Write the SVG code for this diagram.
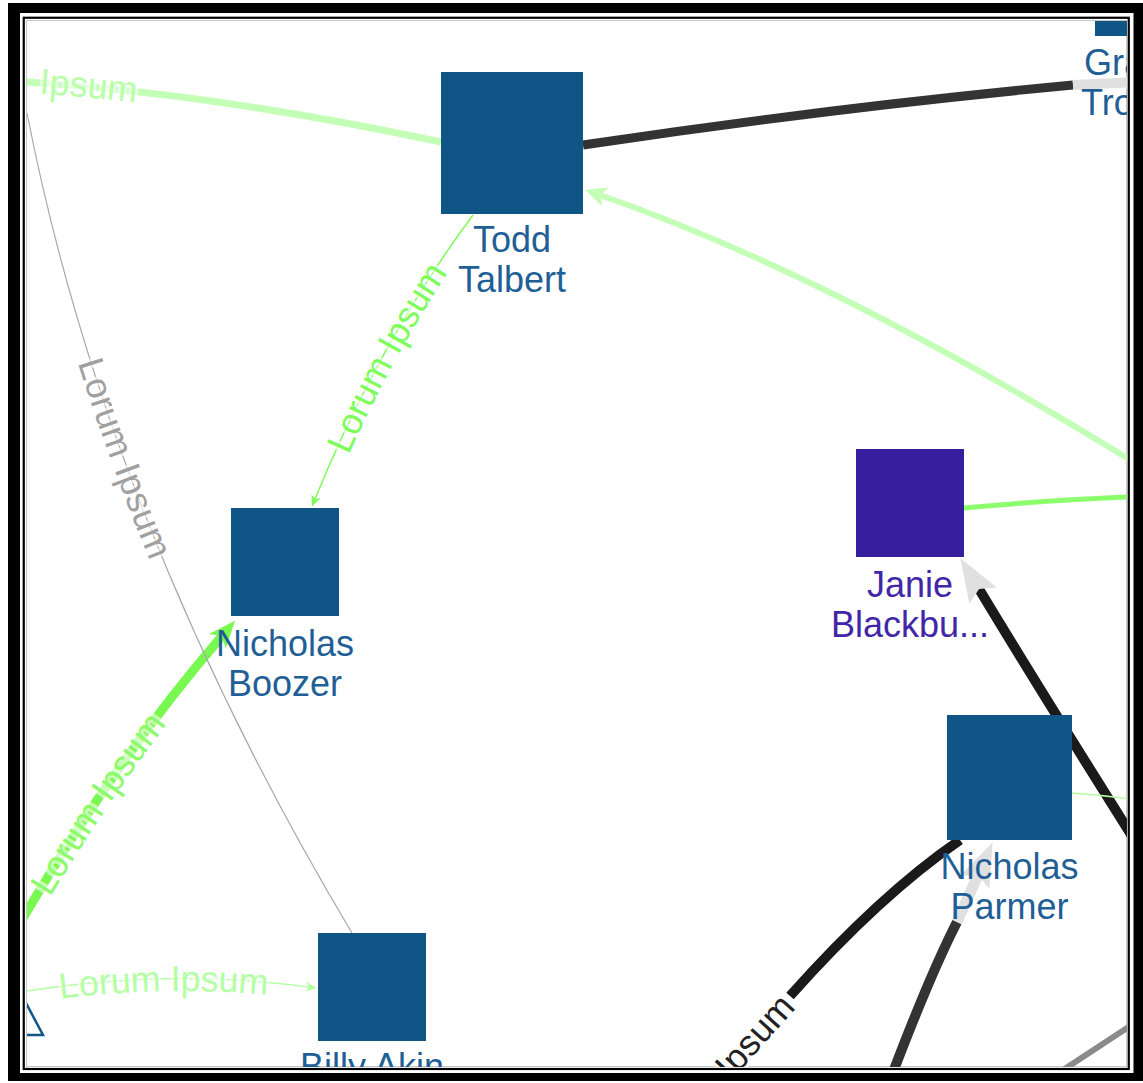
<svg xmlns="http://www.w3.org/2000/svg" width="1143" height="1083" viewBox="0 0 1143 1083">
<defs>
<style>
.nrect{fill:#0f5586;}
.nlbl{font-family:"Liberation Sans",Arial,sans-serif;font-size:36px;fill:#1f5f96;text-anchor:middle;}
.elbl{font-family:"Liberation Sans",Arial,sans-serif;font-size:36px;stroke:#fff;stroke-opacity:0.6;stroke-width:6px;paint-order:stroke;stroke-linejoin:round;}
.e{fill:none;}
</style>
<clipPath id="content"><rect x="27" y="21" width="1100" height="1046"/></clipPath>
<marker id="m-lg" markerUnits="userSpaceOnUse" orient="auto" refX="-16" refY="0" markerWidth="30" markerHeight="30" overflow="visible">
<path d="M0,0 L-22,-10 L-16,0 L-22,10 Z" fill="#c4ffb8"/>
</marker>
<marker id="m-g4" markerUnits="userSpaceOnUse" orient="auto" refX="-8" refY="0" markerWidth="14" markerHeight="14" overflow="visible">
<path d="M0,0 L-11,-5 L-8,0 L-11,5 Z" fill="#7dfc5a"/>
</marker>
<marker id="m-g5" markerUnits="userSpaceOnUse" orient="auto" refX="-20" refY="0" markerWidth="30" markerHeight="30" overflow="visible">
<path d="M0,0 L-27,-11 L-20,0 L-27,11 Z" fill="#78f850"/>
</marker>
<marker id="m-lg7" markerUnits="userSpaceOnUse" orient="auto" refX="-8" refY="0" markerWidth="14" markerHeight="14" overflow="visible">
<path d="M0,0 L-11,-5 L-8,0 L-11,5 Z" fill="#b4ffa4"/>
</marker>
<marker id="m-gr" markerUnits="userSpaceOnUse" orient="auto" refX="-36" refY="0" markerWidth="50" markerHeight="40" overflow="visible">
<path d="M0,0 L-44,-16 L-36,0 L-44,16 Z" fill="#e0e0e0"/>
</marker>
<path id="p-e1" d="M-80,78 Q150,80 441,142"/>
<path id="p-e4t" d="M313,507 Q380,340 473,215"/>
<path id="p-e5" d="M22,920 Q115,760 222,636"/>
<path id="p-e6" d="M27,113 Q107,523 352,933"/>
<path id="p-e7" d="M27,991 Q170,968 309,987"/>
<path id="p-e9t" d="M640,1164 L790,996"/>
</defs>

<!-- frame -->
<path d="M8,3 H1143 V1081 H8 Z M20,13 V1073 H1133.5 V13 Z" fill="#000" fill-rule="evenodd"/>
<rect x="23.75" y="17.75" width="1105" height="1051.25" fill="none" stroke="#000" stroke-width="2.2"/>
<rect x="26.5" y="20.5" width="1100" height="1046" fill="#fff" stroke="#c8c8c8" stroke-width="1"/>

<g clip-path="url(#content)">
<g id="connectors">
  <use href="#p-e1" class="e" stroke="#c4ffb8" stroke-width="7"/>
  <path class="e" d="M583,145 Q830,108 1073,85" stroke="#333" stroke-width="9"/>
  <path class="e" d="M1073,85 L1135,82" stroke="#e0e0e0" stroke-width="10"/>
  <path class="e" d="M1132,461 Q830,275 600,195" stroke="#c4ffb8" stroke-width="6" marker-end="url(#m-lg)"/>
  <path class="e" d="M473,215 Q380,340 315,499" stroke="#7dfc5a" stroke-width="1.5" marker-end="url(#m-g4)"/>
  <use href="#p-e5" class="e" stroke="#78f850" stroke-width="9" marker-end="url(#m-g5)"/>
  <use href="#p-e6" class="e" stroke="#a8a8a8" stroke-width="1.2"/>
  <use href="#p-e7" class="e" stroke="#b4ffa4" stroke-width="1.5" marker-end="url(#m-lg7)"/>
  <path class="e" d="M790,996 Q880,895 960,840" stroke="#1a1a1a" stroke-width="10"/>
  <path class="e" d="M892,1075 Q930,975 957,922" stroke="#333" stroke-width="10"/>
  <path class="e" d="M957,922 L978,875" stroke="#e0e0e0" stroke-width="11" marker-end="url(#m-gr)"/>
  <path class="e" d="M1132,836 Q1040,690 979,589" stroke="#1a1a1a" stroke-width="10" marker-end="url(#m-gr)"/>
  <path class="e" d="M1072,793 Q1100,795 1130,799" stroke="#b4ffa4" stroke-width="1.5"/>
  <path class="e" d="M964,508 Q1050,500 1130,497" stroke="#8cff6c" stroke-width="5"/>
  <path class="e" d="M1060,1072 L1130,1026" stroke="#8a8a8a" stroke-width="6"/>

  <text class="elbl" fill="#b8ffa8" dy="0.3em"><textPath href="#p-e1" startOffset="120">Ipsum</textPath></text>
  <text class="elbl" fill="#7dfc5a" dy="0.35em" text-anchor="middle"><textPath href="#p-e4t" startOffset="50%">Lorum Ipsum</textPath></text>
  <text class="elbl" fill="#8cfb6a" dy="0.35em" text-anchor="middle"><textPath href="#p-e5" startOffset="40%">Lorum Ipsum</textPath></text>
  <text class="elbl" fill="#a0a0a0" dy="0.35em" text-anchor="middle"><textPath href="#p-e6" startOffset="40.5%">Lorum Ipsum</textPath></text>
  <text class="elbl" fill="#b4ffa4" dy="0.35em" text-anchor="middle"><textPath href="#p-e7" startOffset="48.5%">Lorum Ipsum</textPath></text>
  <text class="elbl" fill="#222" dy="0.35em" text-anchor="end"><textPath href="#p-e9t" startOffset="98%">Lorum Ipsum</textPath></text>
</g>

<g id="node-todd">
  <rect class="nrect" x="441" y="72" width="142" height="142"/>
  <text class="nlbl" x="512" y="252">Todd</text>
  <text class="nlbl" x="512" y="292">Talbert</text>
</g>
<g id="node-boozer">
  <rect class="nrect" x="231" y="508" width="108" height="108"/>
  <text class="nlbl" x="285" y="655.5">Nicholas</text>
  <text class="nlbl" x="285" y="695.5">Boozer</text>
</g>
<g id="node-janie">
  <rect x="856" y="449" width="108" height="108" fill="#371e9e"/>
  <text class="nlbl" x="910" y="596.5" style="fill:#4127a8">Janie</text>
  <text class="nlbl" x="910" y="636.5" style="fill:#4127a8">Blackbu...</text>
</g>
<g id="node-parmer">
  <rect class="nrect" x="947" y="715" width="125" height="125"/>
  <text class="nlbl" x="1009.5" y="879">Nicholas</text>
  <text class="nlbl" x="1009.5" y="919">Parmer</text>
</g>
<g id="node-billy">
  <rect class="nrect" x="318" y="933" width="108" height="108"/>
  <text class="nlbl" x="372" y="1079">Billy Akin</text>
</g>
<g id="node-gr">
  <rect class="nrect" x="1095" y="-72" width="108" height="108"/>
  <text class="nlbl" x="1084" y="75" style="text-anchor:start">Gra</text>
  <text class="nlbl" x="1081" y="115" style="text-anchor:start">Tro</text>
</g>
<g id="node-triangle">
  <path d="M18,988 L43,1035 L-7,1035 Z" fill="#fff" stroke="#0f5586" stroke-width="2.5"/>
</g>
</g>
</svg>
